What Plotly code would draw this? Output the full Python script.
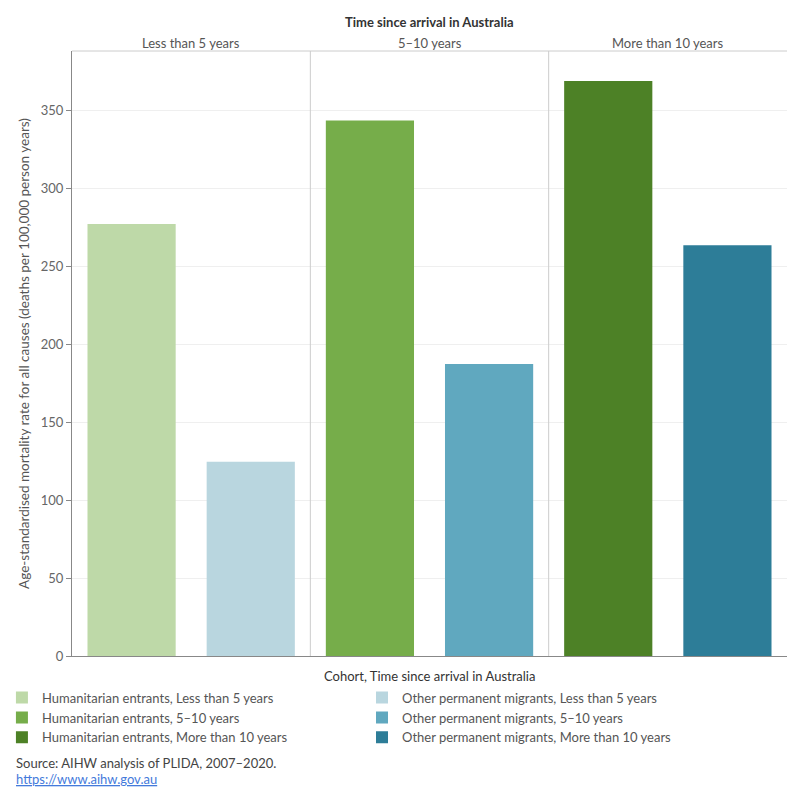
import plotly.graph_objects as go

periods = ["Less than 5 years", "5–10 years", "More than 10 years"]
cohorts = ["Humanitarian entrants", "Other permanent migrants"]
values = {
    ("Humanitarian entrants", "Less than 5 years"): 277,
    ("Other permanent migrants", "Less than 5 years"): 124.5,
    ("Humanitarian entrants", "5–10 years"): 343.5,
    ("Other permanent migrants", "5–10 years"): 187.3,
    ("Humanitarian entrants", "More than 10 years"): 368.7,
    ("Other permanent migrants", "More than 10 years"): 263.5,
}
colors = {
    ("Humanitarian entrants", "Less than 5 years"): "#BED9A8",
    ("Other permanent migrants", "Less than 5 years"): "#B9D6DF",
    ("Humanitarian entrants", "5–10 years"): "#76AD4A",
    ("Other permanent migrants", "5–10 years"): "#60A8BF",
    ("Humanitarian entrants", "More than 10 years"): "#4D8126",
    ("Other permanent migrants", "More than 10 years"): "#2D7D98",
}
y_ticks = [0, 50, 100, 150, 200, 250, 300, 350]

FONT = "Lato, 'Open Sans', sans-serif"
fig = go.Figure()
cats = []
for p in periods:
    for c in cohorts:
        cat = f"{c}, {p}"
        cats.append(cat)
        fig.add_trace(go.Bar(
            x=[cat], y=[values[(c, p)]], name=cat,
            marker=dict(color=colors[(c, p)], line=dict(width=0)),
            width=0.74,
            legend="legend" if c == cohorts[0] else "legend2",
            hovertemplate="%{x}: %{y}<extra></extra>",
        ))

legend_common = dict(
    orientation="v", xanchor="left", y=-0.044, yanchor="top",
    font=dict(size=13, color="#555", family=FONT),
    tracegroupgap=0, itemsizing="constant", bgcolor="rgba(0,0,0,0)",
)

fig.update_layout(
    width=800, height=800,
    margin=dict(l=72, r=13, t=51, b=144, autoexpand=False),
    paper_bgcolor="white", plot_bgcolor="white",
    font=dict(family=FONT, size=12, color="#555"),
    barmode="overlay",
    showlegend=True,
    legend=dict(x=-0.098, **legend_common),
    legend2=dict(x=0.4056, **legend_common),
    xaxis=dict(
        type="category", categoryorder="array", categoryarray=cats,
        range=[-0.5, 5.5], showticklabels=False, ticks="",
        showline=True, linecolor="#888", linewidth=1, showgrid=False,
        fixedrange=True,
    ),
    yaxis=dict(
        range=[0, 388], tickvals=y_ticks, ticks="outside", ticklen=5,
        tickcolor="#888", showline=True, linecolor="#888", linewidth=1,
        showgrid=True, gridcolor="#EFEFEF", zeroline=False,
        tickfont=dict(size=13, color="#666"),
        title=dict(text="Age-standardised mortality rate for all causes (deaths per 100,000 person years)",
                   font=dict(size=13.5, color="#555"), standoff=8),
    ),
)

# panel separators and top border
for xv in [1.5, 3.5]:
    fig.add_shape(type="line", xref="x", yref="paper", x0=xv, x1=xv, y0=0, y1=1,
                  line=dict(color="#CCCCCC", width=1))
fig.add_shape(type="line", xref="paper", yref="paper", x0=0, x1=1, y0=1, y1=1,
              line=dict(color="#CCCCCC", width=1))

# column headers
for i, p in enumerate(periods):
    fig.add_annotation(x=2 * i + 0.5, xref="x", y=1.0, yref="paper", yanchor="bottom",
                       yshift=-2, text=p, showarrow=False,
                       font=dict(size=13, color="#555", family=FONT))
fig.add_annotation(x=0.5, xref="paper", y=1.0, yref="paper", yanchor="bottom", yshift=19,
                   text="<b>Time since arrival in Australia</b>", showarrow=False,
                   font=dict(size=13, color="#333", family=FONT))

# legend title
fig.add_annotation(x=0.5, xref="paper", xshift=-0.5, y=-0.017, yref="paper", yanchor="top",
                   text="Cohort, Time since arrival in Australia", showarrow=False,
                   font=dict(size=13, color="#333", family=FONT))

# source
fig.add_annotation(x=0.0, xref="paper", xanchor="left", xshift=-58, y=-0.16, yref="paper",
                   yanchor="top", text="Source: AIHW analysis of PLIDA, 2007–2020.",
                   showarrow=False, align="left", font=dict(size=13, color="#444", family=FONT))
fig.add_annotation(x=0.0, xref="paper", xanchor="left", xshift=-58, y=-0.187, yref="paper",
                   yanchor="top", text="<a href='https://www.aihw.gov.au'><u>https://www.aihw.gov.au</u></a>",
                   showarrow=False, align="left", font=dict(size=13, color="#3F9FC9", family=FONT))

fig.write_html("out.html")
